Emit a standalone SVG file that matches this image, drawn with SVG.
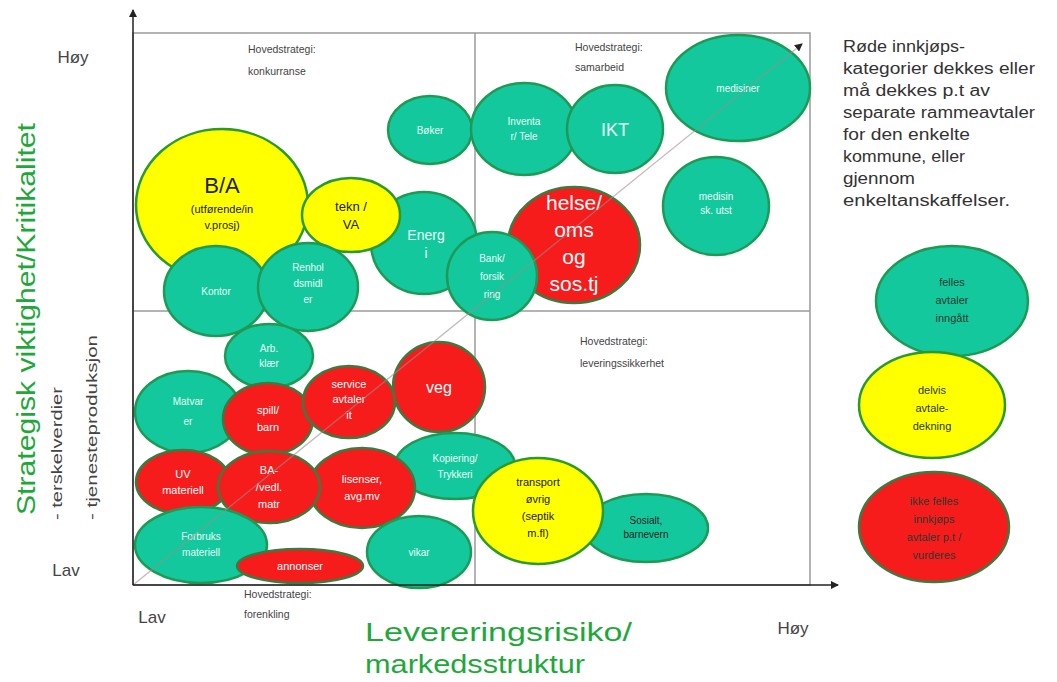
<svg xmlns="http://www.w3.org/2000/svg" width="1057" height="682" viewBox="0 0 1057 682">
<defs>
<marker id="ah" markerWidth="8" markerHeight="8" refX="7" refY="4" orient="auto" markerUnits="userSpaceOnUse">
<path d="M0,0 L8,4 L0,8 z" fill="#222"/>
</marker>
<style>
text{font-family:"Liberation Sans",Arial,sans-serif;text-anchor:middle}
.t{fill:#14c89e;stroke:#1e9a55;stroke-width:2.5}
.y{fill:#ffff00;stroke:#2a9a2a;stroke-width:2.5}
.r{fill:#f61c1c;stroke:#3d7a40;stroke-width:2.5}
.tw{fill:#e6fff6;font-size:10px}
.rw{fill:#ffffff;font-size:11px}
.dk{fill:#222;font-size:11px}
.q{fill:#444;font-size:10.5px;text-anchor:start}
.ax{fill:#444;font-size:17px}
.lg{fill:#2a3a30;font-size:11px}
.gr{fill:#1fa83a;font-size:26px;text-anchor:start}
.rt{fill:#333;font-size:16px;text-anchor:start}
.sub{fill:#444;font-size:14px;text-anchor:start}
</style>
</defs>
<rect width="1057" height="682" fill="#ffffff"/>

<g id="frame">
<rect x="133" y="33" width="677" height="552" fill="none" stroke="#9a9a9a" stroke-width="1.5"/>
<line x1="475" y1="33" x2="475" y2="585" stroke="#9a9a9a" stroke-width="1.5"/>
<line x1="133" y1="311" x2="810" y2="311" stroke="#9a9a9a" stroke-width="1.5"/>
</g>

<g id="labels">
<text class="ax" x="73" y="63">Høy</text>
<text class="ax" x="66" y="576">Lav</text>
<text class="ax" x="152" y="623">Lav</text>
<text class="ax" x="793" y="634">Høy</text>
<text class="gr" x="365" y="641" textLength="267" lengthAdjust="spacingAndGlyphs">Levereringsrisiko/</text>
<text class="gr" x="365" y="673" textLength="220" lengthAdjust="spacingAndGlyphs">markedsstruktur</text>
<text class="gr" transform="translate(35,515) rotate(-90)" textLength="392" lengthAdjust="spacingAndGlyphs">Strategisk viktighet/Kritikalitet</text>
<text class="sub" transform="translate(62,520) rotate(-90)" textLength="133" lengthAdjust="spacingAndGlyphs">- terskelverdier</text>
<text class="sub" transform="translate(97,520) rotate(-90)" textLength="185" lengthAdjust="spacingAndGlyphs">- tjenesteproduksjon</text>
<text class="q" x="248" y="53">Hovedstrategi:</text>
<text class="q" x="248" y="75">konkurranse</text>
<text class="q" x="575" y="51">Hovedstrategi:</text>
<text class="q" x="575" y="71">samarbeid</text>
<text class="q" x="580" y="345">Hovedstrategi:</text>
<text class="q" x="580" y="367">leveringssikkerhet</text>
<text class="q" x="244" y="598">Hovedstrategi:</text>
<text class="q" x="244" y="618">forenkling</text>
<text class="rt" x="843" y="52" textLength="122" lengthAdjust="spacingAndGlyphs">Røde innkjøps-</text>
<text class="rt" x="843" y="74" textLength="192" lengthAdjust="spacingAndGlyphs">kategorier dekkes eller</text>
<text class="rt" x="843" y="96" textLength="147" lengthAdjust="spacingAndGlyphs">må dekkes p.t av</text>
<text class="rt" x="843" y="118" textLength="192" lengthAdjust="spacingAndGlyphs">separate rammeavtaler</text>
<text class="rt" x="843" y="140" textLength="127" lengthAdjust="spacingAndGlyphs">for den enkelte</text>
<text class="rt" x="843" y="162" textLength="122" lengthAdjust="spacingAndGlyphs">kommune, eller</text>
<text class="rt" x="843" y="184" textLength="72" lengthAdjust="spacingAndGlyphs">gjennom</text>
<text class="rt" x="843" y="206" textLength="167" lengthAdjust="spacingAndGlyphs">enkeltanskaffelser.</text>
</g>

<g id="n-bok"><ellipse class="t" cx="430" cy="130" rx="42" ry="34"/><text class="tw" x="430" y="134">Bøker</text></g>
<g id="n-inventar"><ellipse class="t" cx="524" cy="129" rx="53" ry="46"/><text class="tw" x="524" y="125">Inventa</text><text class="tw" x="524" y="140">r/ Tele</text></g>
<g id="n-ikt"><ellipse class="t" cx="615" cy="129" rx="48" ry="44"/><text class="tw" x="615" y="136" style="font-size:18px">IKT</text></g>
<g id="n-medisiner"><ellipse class="t" cx="738" cy="88" rx="72" ry="53"/><text class="tw" x="738" y="92">medisiner</text></g>
<g id="n-medutst"><ellipse class="t" cx="716" cy="206" rx="53" ry="49"/><text class="tw" x="716" y="200">medisin</text><text class="tw" x="716" y="214">sk. utst</text></g>
<g id="n-ba"><ellipse class="y" cx="222" cy="205" rx="86" ry="76"/><text class="dk" x="222" y="193" style="font-size:22px">B/A</text><text class="dk" x="222" y="213">(utførende/in</text><text class="dk" x="222" y="229">v.prosj)</text></g>
<g id="n-energi"><ellipse class="t" cx="424" cy="243" rx="53" ry="51"/><text class="tw" x="426" y="240" style="font-size:14px">Energ</text><text class="tw" x="426" y="258" style="font-size:14px">i</text></g>
<g id="n-tekn"><ellipse class="y" cx="351" cy="215" rx="49" ry="37"/><text class="dk" x="351" y="211" style="font-size:13px">tekn  /</text><text class="dk" x="351" y="229" style="font-size:13px">VA</text></g>
<g id="n-helse"><ellipse class="r" cx="574" cy="245" rx="66" ry="58"/><text class="rw" x="574" y="210" style="font-size:21px">helse/</text><text class="rw" x="574" y="237" style="font-size:21px">oms</text><text class="rw" x="574" y="264" style="font-size:21px">og</text><text class="rw" x="574" y="291" style="font-size:21px">sos.tj</text></g>
<g id="n-bank"><ellipse class="t" cx="492" cy="276" rx="45" ry="44"/><text class="tw" x="492" y="262">Bank/</text><text class="tw" x="492" y="280">forsik</text><text class="tw" x="492" y="298">ring</text></g>
<g id="n-kontor"><ellipse class="t" cx="216" cy="291" rx="52" ry="45"/><text class="tw" x="216" y="295">Kontor</text></g>
<g id="n-vern"><ellipse class="t" cx="308" cy="287" rx="50" ry="44"/><text class="tw" x="308" y="271">Renhol</text><text class="tw" x="308" y="287">dsmidl</text><text class="tw" x="308" y="303">er</text></g>

<g id="n-arb"><ellipse class="t" cx="269" cy="356" rx="44" ry="32"/><text class="tw" x="269" y="352">Arb.</text><text class="tw" x="269" y="367">klær</text></g>
<g id="n-mat"><ellipse class="t" cx="188" cy="412" rx="53" ry="41"/><text class="tw" x="188" y="405">Matvar</text><text class="tw" x="188" y="425">er</text></g>
<g id="n-spill"><ellipse class="r" cx="268" cy="419" rx="45" ry="36"/><text class="rw" x="268" y="414">spill/</text><text class="rw" x="268" y="431">barn</text></g>
<g id="n-service"><ellipse class="r" cx="349" cy="402" rx="46" ry="36"/><text class="rw" x="349" y="388">service</text><text class="rw" x="349" y="403">avtaler</text><text class="rw" x="349" y="419">it</text></g>
<g id="n-veg"><ellipse class="r" cx="439" cy="387" rx="46" ry="45"/><text class="rw" x="439" y="393" style="font-size:16px">veg</text></g>
<g id="n-kopi"><ellipse class="t" cx="455" cy="466" rx="60" ry="33"/><text class="tw" x="455" y="462">Kopiering/</text><text class="tw" x="455" y="478">Trykkeri</text></g>
<g id="n-uv"><ellipse class="r" cx="183" cy="482" rx="47" ry="32"/><text class="rw" x="183" y="478">UV</text><text class="rw" x="183" y="494">materiell</text></g>
<g id="n-lisens"><ellipse class="r" cx="362" cy="488" rx="53" ry="40"/><text class="rw" x="362" y="483">lisenser,</text><text class="rw" x="362" y="500">avg.mv</text></g>
<g id="n-bavedl"><ellipse class="r" cx="269" cy="487" rx="51" ry="36"/><text class="rw" x="269" y="474">BA-</text><text class="rw" x="269" y="491">/vedl.</text><text class="rw" x="269" y="508">matr</text></g>
<g id="n-forbruk"><ellipse class="t" cx="201" cy="545" rx="66" ry="38"/><text class="tw" x="201" y="540">Forbruks</text><text class="tw" x="201" y="556">materiell</text></g>
<g id="n-vikar"><ellipse class="t" cx="419" cy="552" rx="52" ry="36"/><text class="tw" x="419" y="556">vikar</text></g>
<g id="n-annonser"><ellipse class="r" cx="300" cy="566" rx="63" ry="17"/><text class="rw" x="300" y="570">annonser</text></g>
<g id="n-sosialt"><ellipse class="t" cx="646" cy="528" rx="62" ry="34"/><text class="dk" x="646" y="524" style="font-size:10px">Sosialt,</text><text class="dk" x="646" y="538" style="font-size:10px">barnevern</text></g>
<g id="n-transport"><ellipse class="y" cx="538" cy="511" rx="65" ry="53"/><text class="dk" x="538" y="486">transport</text><text class="dk" x="538" y="503">øvrig</text><text class="dk" x="538" y="520">(septik</text><text class="dk" x="538" y="537">m.fl)</text></g>

<g id="legend-felles"><ellipse class="t" cx="952" cy="301" rx="76" ry="55"/><text class="lg" x="952" y="286">felles</text><text class="lg" x="952" y="304">avtaler</text><text class="lg" x="952" y="322">inngått</text></g>
<g id="legend-delvis"><ellipse class="y" cx="932" cy="405" rx="73" ry="53"/><text class="lg" x="932" y="394">delvis</text><text class="lg" x="932" y="412">avtale-</text><text class="lg" x="932" y="430">dekning</text></g>
<g id="legend-ikke"><ellipse class="r" cx="934" cy="527" rx="75" ry="55"/><text class="lg" x="934" y="505">ikke felles</text><text class="lg" x="934" y="523">innkjøps</text><text class="lg" x="934" y="541">avtaler p.t /</text><text class="lg" x="934" y="559">vurderes</text></g>

<g id="connectors">
<line x1="133" y1="585" x2="802" y2="44" stroke="#a08a8a" stroke-width="1.3" stroke-opacity="0.6" marker-end="url(#ah)"/>
<line x1="133" y1="585" x2="133" y2="10" stroke="#222" stroke-width="1.5" marker-end="url(#ah)"/>
<line x1="133" y1="585" x2="838" y2="585" stroke="#222" stroke-width="1.5" marker-end="url(#ah)"/>
</g>
</svg>
